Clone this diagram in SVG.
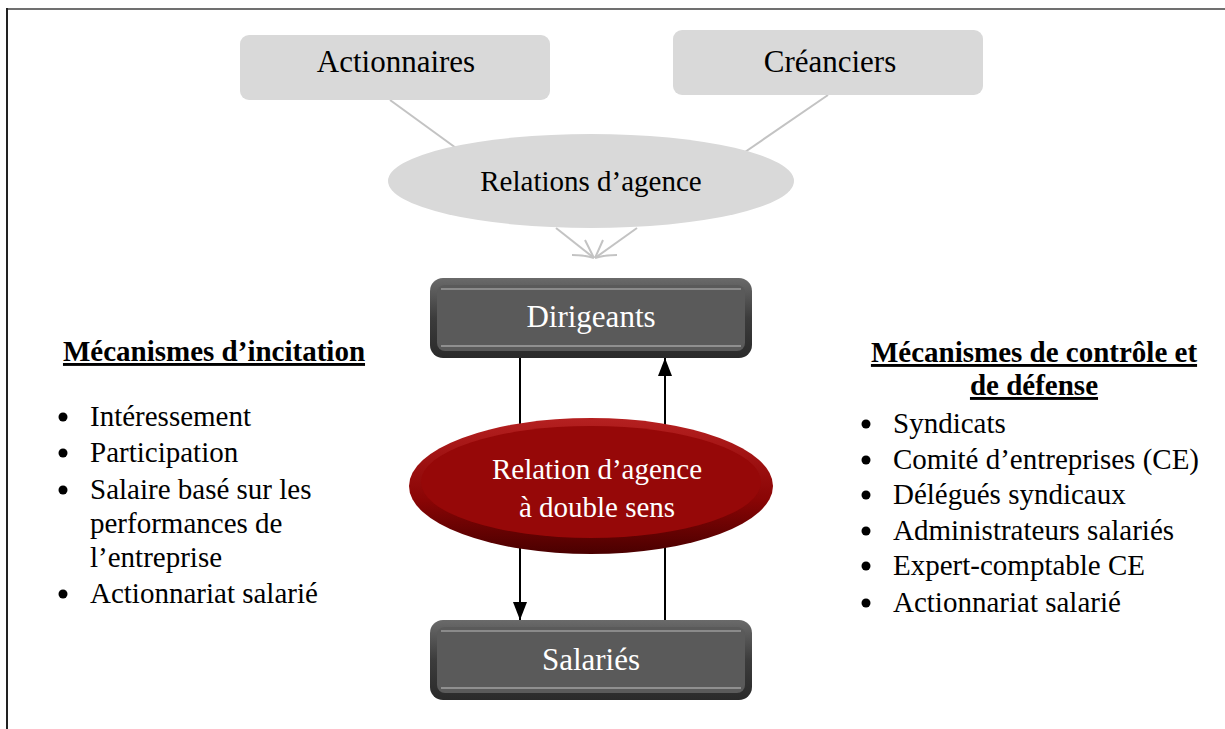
<svg xmlns="http://www.w3.org/2000/svg" width="1225" height="729" viewBox="0 0 1225 729">
<style>
text{font-family:"Liberation Serif","Times New Roman",serif;}
.lbl{font-size:29px;fill:#000;}
.box{font-size:31px;text-anchor:middle;}
.wt{fill:#fff;text-anchor:middle;}
.ttl{font-size:29px;font-weight:bold;text-decoration:underline;text-anchor:middle;}
.gline{stroke:#c3c3c3;stroke-width:2;fill:none;}
.bline{stroke:#000;stroke-width:2;fill:none;}
</style>
<defs>
<linearGradient id="dk" x1="0" y1="0" x2="0" y2="1">
<stop offset="0" stop-color="#6a6a6a"/><stop offset="0.5" stop-color="#3c3c3c"/><stop offset="1" stop-color="#2a2a2a"/>
</linearGradient>
<linearGradient id="rd" x1="0" y1="0" x2="0" y2="1">
<stop offset="0" stop-color="#b52020"/><stop offset="0.6" stop-color="#8a0505"/><stop offset="1" stop-color="#4a0000"/>
</linearGradient>
<marker id="ah" viewBox="0 0 18 14" refX="18" refY="7" markerWidth="18" markerHeight="14" orient="auto" markerUnits="userSpaceOnUse">
<path d="M0,0 L18,7 L0,14 z" fill="#000"/>
</marker>
</defs>
<rect width="1225" height="729" fill="#fff"/>
<line x1="7" y1="9" x2="1225" y2="9" stroke="#707070" stroke-width="2"/>
<line x1="7" y1="8" x2="7" y2="729" stroke="#222" stroke-width="2"/>

<g id="connectors">
<line class="gline" x1="390" y1="100" x2="456" y2="148"/>
<line class="gline" x1="828" y1="95" x2="745" y2="152"/>
<line class="gline" x1="556" y1="228" x2="594" y2="258"/>
<line class="gline" x1="637" y1="228" x2="595" y2="258"/>
<path class="gline" d="M585,240 L594,258 M603,240 L595,258 M572,255 Q585,255 594,258 M617,255 Q604,255 595,258"/>
<line class="bline" x1="520" y1="358" x2="520" y2="620" marker-end="url(#ah)"/>
<line class="bline" x1="665" y1="620" x2="665" y2="358" marker-end="url(#ah)"/>
</g>

<g id="actionnaires">
<rect x="240" y="35" width="310" height="65" rx="9" fill="#d9d9d9"/>
<text class="lbl box" x="396" y="72">Actionnaires</text>
</g>
<g id="creanciers">
<rect x="673" y="30" width="310" height="65" rx="9" fill="#d9d9d9"/>
<text class="lbl box" x="830" y="72">Créanciers</text>
</g>
<g id="relations">
<ellipse cx="591" cy="181" rx="203" ry="47" fill="#d9d9d9"/>
<text class="lbl" x="591" y="191" text-anchor="middle">Relations d’agence</text>
</g>

<g id="dirigeants">
<rect x="430" y="278" width="322" height="80" rx="13" fill="url(#dk)"/>
<rect x="437" y="285" width="308" height="66" rx="8" fill="#5a5a5a"/>
<line x1="441" y1="289" x2="741" y2="289" stroke="#8a8a8a" stroke-width="2"/>
<line x1="441" y1="346" x2="741" y2="346" stroke="#8f8f8f" stroke-width="2"/>
<text class="box wt" x="591" y="327">Dirigeants</text>
</g>
<g id="salaries">
<rect x="430" y="620" width="322" height="80" rx="13" fill="url(#dk)"/>
<rect x="437" y="627" width="308" height="66" rx="8" fill="#5a5a5a"/>
<line x1="441" y1="631" x2="741" y2="631" stroke="#8a8a8a" stroke-width="2"/>
<line x1="441" y1="688" x2="741" y2="688" stroke="#8f8f8f" stroke-width="2"/>
<text class="box wt" x="591" y="670">Salariés</text>
</g>

<g id="double-sens">
<ellipse cx="591" cy="486" rx="182" ry="68" fill="url(#rd)"/>
<ellipse cx="591" cy="482" rx="170" ry="56" fill="#960808"/>
<text class="lbl wt" x="597" y="479">Relation d’agence</text>
<text class="lbl wt" x="597" y="517">à double sens</text>
</g>

<g id="incitation">
<text class="ttl" x="214" y="361">Mécanismes d’incitation</text>
<g fill="#000">
<circle cx="63" cy="417" r="4.5"/><circle cx="63" cy="453" r="4.5"/><circle cx="63" cy="490" r="4.5"/><circle cx="63" cy="594" r="4.5"/>
</g>
<text class="lbl" x="90" y="426">Intéressement</text>
<text class="lbl" x="90" y="462">Participation</text>
<text class="lbl" x="90" y="499">Salaire basé sur les</text>
<text class="lbl" x="90" y="533">performances de</text>
<text class="lbl" x="90" y="567">l’entreprise</text>
<text class="lbl" x="90" y="603">Actionnariat salarié</text>
</g>

<g id="controle">
<text class="ttl" x="1034" y="362">Mécanismes de contrôle et</text>
<text class="ttl" x="1034" y="395">de défense</text>
<g fill="#000">
<circle cx="866" cy="424" r="4.5"/><circle cx="866" cy="460" r="4.5"/><circle cx="866" cy="495" r="4.5"/><circle cx="866" cy="531" r="4.5"/><circle cx="866" cy="566" r="4.5"/><circle cx="866" cy="603" r="4.5"/>
</g>
<text class="lbl" x="893" y="433">Syndicats</text>
<text class="lbl" x="893" y="469">Comité d’entreprises (CE)</text>
<text class="lbl" x="893" y="504">Délégués syndicaux</text>
<text class="lbl" x="893" y="540">Administrateurs salariés</text>
<text class="lbl" x="893" y="575">Expert-comptable CE</text>
<text class="lbl" x="893" y="612">Actionnariat salarié</text>
</g>
</svg>
